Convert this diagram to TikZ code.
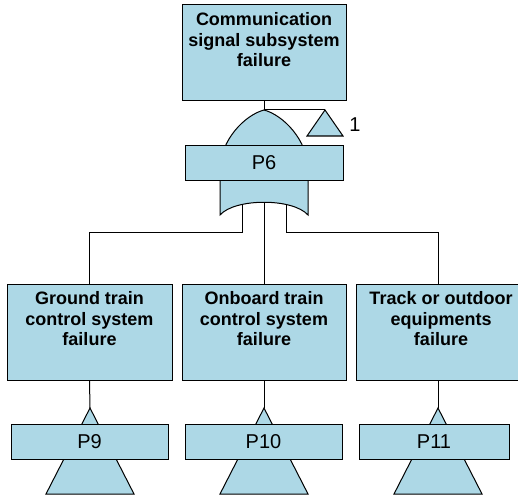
\documentclass[tikz,border=0pt]{standalone}
\usepackage{fontspec}
\setmainfont{Liberation Sans}
\definecolor{gatefill}{RGB}{173,216,230}

\begin{document}
\begin{tikzpicture}[x=1pt, y=-1pt, line width=1pt,
	eventbox/.style={draw, fill=gatefill, minimum width=164pt, minimum height=96pt, inner sep=0pt},
	eventtext/.style={anchor=north, align=center, inner sep=7.5pt, font=\fontsize{18}{20.5}\selectfont\bfseries},
	gatebox/.style={draw, fill=gatefill, minimum height=35pt, inner sep=0pt, font=\fontsize{20}{22}\selectfont},
	symbol/.style={draw, fill=gatefill}]
	\useasboundingbox (0,0) rectangle (518,497);

	% top event and gate
	\node[eventbox] (comm) at (264,53) {};
	\node[eventtext] at (comm.north) {Communication\\signal subsystem\\failure};
	\draw[symbol] (220,215) -- (220,170) .. controls (220,140) and (245,115) .. (264,110)
		.. controls (283,115) and (308,140) .. (308,170) -- (308,215)
		.. controls (293,198) and (235,198) .. (220,215) -- cycle;
	\coordinate (or6) at (264,110);
	\coordinate (or6l) at (242,204);
	\coordinate (or6m) at (264,202);
	\coordinate (or6r) at (286,204);
	\node[gatebox, minimum width=158pt] (p6) at (264,162.5) {P6};
	\coordinate (tr1) at (325,110);
	\draw[symbol] (tr1) -- ++(18,26) -- ++(-36,0) -- cycle;
	\node[font=\fontsize{20}{22}\selectfont] (one) at (355,125) {1};

	% events
	\node[eventbox, minimum width=165pt] (ground) at (89.5,332) {};
	\node[eventtext] at (ground.north) {Ground train\\control system\\failure};
	\node[eventbox] (onboard) at (264,332) {};
	\node[eventtext] at (onboard.north) {Onboard train\\control system\\failure};
	\node[eventbox, minimum width=170pt] (track) at (441,332) {};
	\node[eventtext] at (track.north) {Track or outdoor\\equipments\\failure};

	% transfers
	\coordinate (in9) at (90,408);
	\draw[symbol] (in9) -- ++(44,86) -- ++(-88,0) -- cycle;
	\node[gatebox, minimum width=157pt] (p9) at (89.5,441.5) {P9};
	\coordinate (in10) at (264,408);
	\draw[symbol] (in10) -- ++(44,86) -- ++(-88,0) -- cycle;
	\node[gatebox, minimum width=157pt] (p10) at (263.5,441.5) {P10};
	\coordinate (in11) at (438,408);
	\draw[symbol] (in11) -- ++(44,86) -- ++(-88,0) -- cycle;
	\node[gatebox, minimum width=150pt] (p11) at (434,441.5) {P11};

	% lines
	\draw (comm.south) -- (or6) -- (tr1);
	\draw (or6m) -- (onboard.north);
	\draw (or6l) -- ++(0,28) -| (ground.north);
	\draw (or6r) -- ++(0,28) -| (in11 |- track.north);
	\draw (ground.south) -- (in9);
	\draw (onboard.south) -- (in10);
	\draw (in11 |- track.south) -- (in11);
\end{tikzpicture}
\end{document}
